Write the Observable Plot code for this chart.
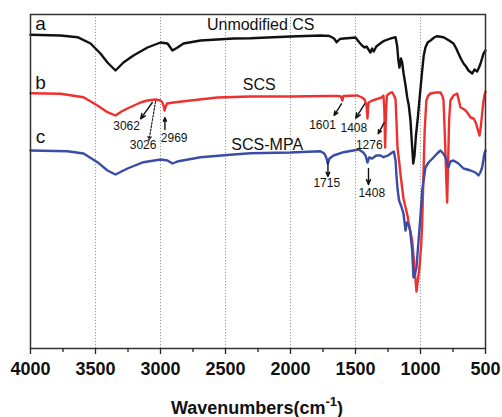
<!DOCTYPE html>
<html>
<head>
<meta charset="utf-8">
<script src="https://cdn.jsdelivr.net/npm/d3@7"></script>
<script src="https://cdn.jsdelivr.net/npm/@observablehq/plot@0.6"></script>
<style>
  html, body { margin: 0; padding: 0; background: #fff; }
  #chart svg { display: block; }
</style>
</head>
<body>
<div id="chart"></div>
<script>
// Wavenumber (cm-1) and transmittance (arbitrary units, offset traces)
const waveA = [4000,3769,3638,3538,3462,3408,3346,3285,3208,3100,3000,2946,2908,2869,2823,2692,2438,2308,2000,1769,1700,1665,1645,1620,1592,1540,1500,1470,1450,1430,1415,1400,1385,1372,1360,1340,1310,1285,1231,1192,1180,1170,1162,1150,1141,1130,1115,1102,1090,1077,1065,1056,1046,1035,1021,1005,987,975,962,945,923,895,872,823,780,746,725,708,690,669,650,631,602,585,564,550,538,515,500];
const transA = [313.7,313,311.3,305,295,286,278,286,293,301,306,305,298,301,305,308,310,310.3,312,313,312.5,310,306.3,309.5,310,310.5,311,306,303,301,302,299,296,300,297,302,305,307.3,310,311.3,303,288,281,290,286,275,263,251,243,228,203,185,193,213,230,253,278,293,301,306,308,311,312.3,311.3,308,305,300,295,290,285,282,278,275,279,277,281,285,295,298];

const waveB = [4000,3769,3592,3485,3408,3346,3300,3254,3154,3100,3040,3000,2985,2975,2969,2960,2950,2900,2769,2562,2308,2000,1700,1638,1612,1601,1592,1485,1450,1430,1415,1408,1400,1370,1331,1300,1285,1278,1272,1265,1258,1240,1218,1200,1192,1185,1177,1165,1150,1131,1115,1100,1092,1064,1046,1031,1020,1008,995,987,977,968,955,940,923,880,846,830,823,812,800,795,788,780,770,746,718,705,692,675,654,635,615,592,575,564,546,535,526,515,508,500];
const transB = [255.3,254.7,251.3,243,236.3,233,237,240,246,248,249,248,246,242,238,242,245,246,248,251,252,252,252.5,252.5,252,248,252.5,253,251,249,243,230,246,248,249.7,251,253,238,201,238,253,255,256.3,252,249,228,201,188,170,150,141,133,126,108,81,57,68,81,103,125,175,218,248,253,255,256,256,252,248,211,163,146,183,228,248,253,255,248,241,240,238,235,231,230,226,221,213,223,235,248,253,257];

const waveC = [4000,3715,3592,3485,3408,3346,3254,3131,3000,2946,2908,2862,2692,2438,2308,2000,1769,1740,1725,1713,1700,1669,1592,1475,1440,1423,1408,1395,1372,1340,1308,1285,1250,1218,1205,1192,1185,1177,1165,1150,1131,1115,1105,1092,1080,1064,1054,1040,1031,1015,1000,987,962,938,900,872,846,825,808,785,770,746,708,669,640,615,577,554,540,526,508,500];
const transC = [198,197.3,195,186.3,178,174,180,186.3,189,188,185,187.3,191.3,194,195.3,196,197.3,195,191,185,190,193,196.3,199,196,193,186,191,190,193,193,191.3,193,196,197,188,173,160,148,143,135,118,126,124,118,98,71,76,81,108,133,158,181,186,191,195,198,195,191,181,187,188,185,180,179,178,176,173,176,181,195,198];

const seriesNames = ["Unmodified CS", "SCS", "SCS-MPA"];
const seriesLetters = ["a", "b", "c"];
const seriesColors = ["#111111", "#ee3030", "#3a4ca8"];

// label anchors (wavenumber, transmittance)
const seriesLabelWave = [2229, 2241, 2179];
const seriesLabelT = [324, 264, 204];
const letterWave = [3923, 3923, 3923];
const letterT = [325, 266, 212];

// peak annotations
const peakText = ["3062", "3026", "2969", "1601", "1408", "1276", "1715", "1408"];
const peakTextWave = [3261, 3134, 2895, 1754, 1513, 1394, 1721, 1375];
const peakTextT = [222, 203, 210, 223, 220, 203, 165, 155];
const arrowW1 = [3063, 3038, 2966, 1608, 1429, 1280, 1712, 1400];
const arrowT1 = [246, 247, 219, 244.7, 244.7, 225.7, 186, 180];
const arrowW2 = [3153, 3089, 2966, 1665, 1498, 1326, 1712, 1400];
const arrowT2 = [229.7, 208, 231, 233, 230.3, 214.7, 172, 164];
const arrowDashed = [false, true, false, false, false, false, false, false];

const majorTicks = [4000, 3500, 3000, 2500, 2000, 1500, 1000, 500];
const minorTicks = [3750, 3250, 2750, 2250, 1750, 1250, 750];
const gridTicks = [3500, 3000, 2500, 2000, 1500, 1000];

const toRows = (w, t) => w.map((x, i) => ({w: x, t: t[i]}));
const rowsA = toRows(waveA, transA);
const rowsB = toRows(waveB, transB);
const rowsC = toRows(waveC, transC);
const seriesRows = seriesNames.map((n, i) => ({name: n, letter: seriesLetters[i], w: seriesLabelWave[i], t: seriesLabelT[i], lw: letterWave[i], lt: letterT[i]}));
const peakRows = peakText.map((s, i) => ({s, w: peakTextWave[i], t: peakTextT[i], w1: arrowW1[i], t1: arrowT1[i], w2: arrowW2[i], t2: arrowT2[i], dashed: arrowDashed[i]}));

const font = "Liberation Sans, Arial, Helvetica, sans-serif";

const chart = Plot.plot({
  width: 502,
  height: 417,
  marginLeft: 30,
  marginRight: 17,
  marginTop: 14,
  marginBottom: 69,
  style: {fontFamily: font, background: "#fff", overflow: "visible"},
  x: {domain: [4000, 500], label: null},
  y: {domain: [0, 334], label: null, axis: null},
  marks: [
    Plot.ruleX(gridTicks, {stroke: "#9a9a9a", strokeDasharray: "1.2,1.8", strokeWidth: 1}),
    Plot.line(rowsB, {x: "w", y: "t", stroke: seriesColors[1], strokeWidth: 2.4, curve: "linear"}),
    Plot.line(rowsC, {x: "w", y: "t", stroke: seriesColors[2], strokeWidth: 2.4, curve: "linear"}),
    Plot.line(rowsA, {x: "w", y: "t", stroke: seriesColors[0], strokeWidth: 2.4, curve: "linear"}),
    Plot.frame({stroke: "#333", strokeWidth: 1.5}),
    Plot.axisX({ticks: majorTicks, tickSize: 6, tickPadding: 8, tickFormat: d3.format("d"), fontSize: 18, fontWeight: "bold", fontFamily: font, stroke: "#222", strokeWidth: 1.3, label: null, fill: "#111"}),
    Plot.axisX({ticks: minorTicks, tickSize: 4, tickFormat: () => "", stroke: "#222", strokeWidth: 1.3, label: null}),
    Plot.text(seriesRows, {x: "w", y: "t", text: "name", fontSize: 16, fill: "#111", textAnchor: "middle", lineAnchor: "middle"}),
    Plot.text(seriesRows, {x: "lw", y: "lt", text: "letter", fontSize: 19, fill: "#111", textAnchor: "middle", lineAnchor: "middle"}),
    Plot.text(peakRows, {x: "w", y: "t", text: "s", fontSize: 12, fill: "#111", textAnchor: "middle", lineAnchor: "middle"}),
    Plot.arrow(peakRows.filter(d => !d.dashed), {x1: "w1", y1: "t1", x2: "w2", y2: "t2", stroke: "#111", strokeWidth: 1.4, headLength: 6, headAngle: 45}),
    Plot.arrow(peakRows.filter(d => d.dashed), {x1: "w1", y1: "t1", x2: "w2", y2: "t2", stroke: "#111", strokeWidth: 1.1, headLength: 6, headAngle: 45, strokeDasharray: "2,1.5"})
  ]
});

// x-axis title with superscript
const svg = d3.select(chart);
const title = svg.append("text")
  .attr("x", 257)
  .attr("y", 414)
  .attr("text-anchor", "middle")
  .attr("font-family", font)
  .attr("font-size", 18)
  .attr("font-weight", "bold")
  .attr("fill", "#111");
title.append("tspan").text("Wavenumbers(cm");
title.append("tspan").attr("dy", -8).attr("font-size", 13).text("-1");
title.append("tspan").attr("dy", 8).text(")");

document.getElementById("chart").appendChild(chart);
</script>
</body>
</html>
